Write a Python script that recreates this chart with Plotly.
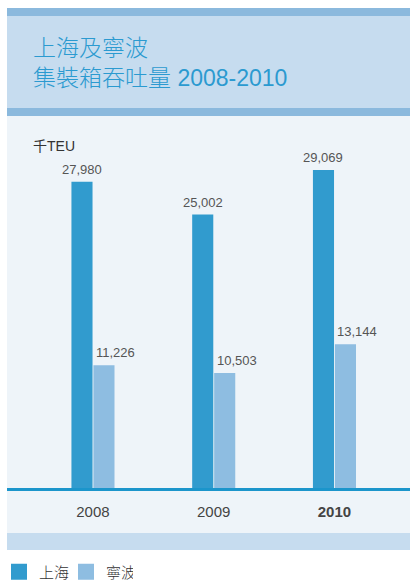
import plotly.graph_objects as go

years = ["2008", "2009", "2010"]
year_labels = ["2008", "2009", "<b>2010</b>"]
shanghai = [27980, 25002, 29069]
ningbo = [11226, 10503, 13144]
series_names = ["上海", "寧波"]
title_text = "上海及寧波<br>集裝箱吞吐量 2008-2010"
unit_text = "千TEU"

W, H = 410, 582
C_SH = "#319BCE"
C_NB = "#8EBDE1"
C_DARK = "#8BB9DD"
C_LIGHT = "#C6DCEF"
C_BG = "#EEF4F9"
C_AXIS = "#1B95CB"
C_LABEL = "#555555"
FONT = "Liberation Sans, Noto Sans CJK TC, sans-serif"


def fx(v):
    return v / W


def fy(v):
    return 1 - v / H


fig = go.Figure()
fig.add_trace(go.Bar(
    x=years, y=shanghai, name=series_names[0],
    marker=dict(color=C_SH, line=dict(width=0)), showlegend=False,
))
fig.add_trace(go.Bar(
    x=years, y=ningbo, name=series_names[1],
    marker=dict(color=C_NB, line=dict(width=0)), showlegend=False,
))
for name, col in zip(series_names, [C_SH, C_NB]):
    fig.add_trace(go.Scatter(
        x=[None], y=[None], mode="markers", name=name,
        marker=dict(symbol="square", size=16, color=col),
    ))

shapes = []
for (y0, y1, col) in [(8, 16, C_DARK), (16, 108, C_LIGHT), (108, 116, C_DARK),
                      (116, 533, C_BG), (533, 550, C_LIGHT)]:
    shapes.append(dict(type="rect", xref="paper", yref="paper", x0=fx(7), x1=1,
                       y0=fy(y1), y1=fy(y0), fillcolor=col, line=dict(width=0), layer="below"))

annotations = [
    dict(text=title_text, xref="paper", yref="paper", x=fx(31), y=fy(63),
         xanchor="left", yanchor="middle", align="left", showarrow=False,
         font=dict(size=23, color="#2B9AD0", family=FONT, weight=300)),
    dict(text=unit_text, xref="paper", yref="paper", x=fx(31), y=fy(146),
         xanchor="left", yanchor="middle", showarrow=False,
         font=dict(size=14, color="#333333", family=FONT)),
]
# value labels: x given as category index (serial number) on the category axis
for i, v in enumerate(shanghai):
    annotations.append(dict(text=f"{v:,}", x=i, y=v, xref="x", yref="y",
                            xanchor="center", yanchor="middle", xshift=-11, yshift=12,
                            showarrow=False,
                            font=dict(size=13, color=C_LABEL, family=FONT, weight=300)))
for i, v in enumerate(ningbo):
    annotations.append(dict(text=f"{v:,}", x=i, y=v, xref="x", yref="y",
                            xanchor="left", yanchor="middle", xshift=1, yshift=13,
                            showarrow=False,
                            font=dict(size=13, color=C_LABEL, family=FONT, weight=300)))

fig.update_layout(
    width=W, height=H,
    margin=dict(l=0, r=0, t=0, b=0, autoexpand=False),
    paper_bgcolor="white", plot_bgcolor="rgba(0,0,0,0)",
    barmode="group", bargap=0.636, bargroupgap=0.04,
    shapes=shapes, annotations=annotations,
    font=dict(family=FONT),
    xaxis=dict(domain=[fx(7), 1], range=[-0.712, 2.6255], type="category",
               tickvals=years, ticktext=year_labels, showline=True, linecolor=C_AXIS,
               linewidth=3, ticks="", showgrid=False, zeroline=False,
               tickfont=dict(size=15, color="#444444", family=FONT), ticklabelstandoff=8),
    yaxis=dict(domain=[fy(488), fy(116)], range=[0, 34000], showticklabels=False,
               showline=False, showgrid=False, zeroline=False, ticks=""),
    legend=dict(orientation="h", x=fx(-1), y=fy(572), xanchor="left", yanchor="middle",
                entrywidth=22, font=dict(size=15, color="#333333", family=FONT, weight=300),
                bgcolor="rgba(0,0,0,0)"),
)
fig.write_html("out.html", config={"displayModeBar": False},
               post_script="document.body.style.margin='0px';document.body.style.overflow='hidden';")
